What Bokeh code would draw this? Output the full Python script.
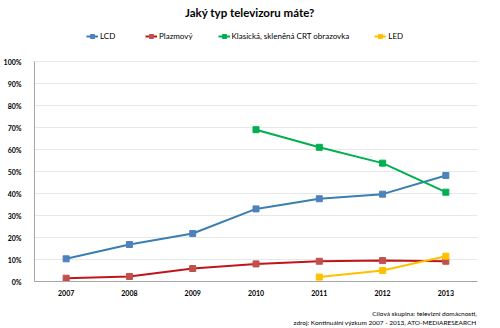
from bokeh.plotting import figure
from bokeh.models import (FactorRange, Range1d, Legend, LegendItem, Label,
                          PrintfTickFormatter, FixedTicker)
from bokeh.layouts import column
from bokeh.embed import file_html
from bokeh.resources import INLINE

years = ["2007", "2008", "2009", "2010", "2011", "2012", "2013"]
lcd = [10.3, 16.8, 21.8, 33.0, 37.6, 39.7, 48.2]
plazma = [1.5, 2.3, 5.9, 8.0, 9.2, 9.5, 9.2]
crt_years = ["2010", "2011", "2012", "2013"]
crt = [69.0, 61.0, 53.8, 40.6]
led_years = ["2011", "2012", "2013"]
led = [2.0, 5.0, 11.5]
y_ticks = [0, 10, 20, 30, 40, 50, 60, 70, 80, 90, 100]

title_text = "Jaký typ televizoru máte?"
note1 = "Cílová skupina: televizní domácnosti,"
note2 = "zdroj: Kontinuální výzkum 2007 - 2013, ATO-MEDIARESEARCH"

FONT = "Lato"


def strip(height):
    s = figure(width=500, height=height, x_range=Range1d(0, 500),
               y_range=Range1d(0, height), output_backend="svg",
               toolbar_location=None, title=None, x_axis_type=None,
               y_axis_type=None, min_border_left=0, min_border_right=0,
               min_border_top=0, min_border_bottom=0)
    s.grid.visible = False
    s.outline_line_color = None
    s.background_fill_color = "white"
    s.border_fill_color = "white"
    return s


# header strip with the title
h = strip(20)
h.add_layout(Label(x=243, y=8, text=title_text, text_font=FONT,
                   text_font_style="bold", text_font_size="11.5px",
                   text_align="center", text_baseline="middle", text_color="#000000"))

# main chart: frame spans 29..477 x 20..281 (room above 100% holds the legend)
p = figure(width=500, height=280, x_range=FactorRange(*years, range_padding=0),
           y_range=Range1d(0, 261 / 2.2), output_backend="svg",
           toolbar_location=None, title=None,
           min_border_left=29, min_border_right=23, min_border_top=0,
           min_border_bottom=19)
p.outline_line_color = None
p.background_fill_color = "white"
p.border_fill_color = "white"

# grid
p.xgrid.grid_line_color = None
p.ygrid.grid_line_color = "#d0d0d0"
p.ygrid.grid_line_dash = "1 1"
p.ygrid.ticker = FixedTicker(ticks=y_ticks)

# axes
p.yaxis.ticker = FixedTicker(ticks=y_ticks)
p.yaxis.formatter = PrintfTickFormatter(format="%d%%")
p.yaxis.bounds = (0, 100)
for ax in (p.xaxis[0], p.yaxis[0]):
    ax.axis_line_color = "#a6a6a6"
    ax.major_tick_line_color = None
    ax.minor_tick_line_color = None
    ax.major_label_text_font = FONT
    ax.major_label_text_font_style = "bold"
    ax.major_label_text_font_size = "7px"
    ax.major_label_text_color = "#000000"
p.yaxis.major_label_standoff = 7
p.xaxis.major_label_standoff = 2

series = [
    ("LCD", years, lcd, "#3a7fb0", "#4f81bd"),
    ("Plazmový", years, plazma, "#c0161b", "#c0504d"),
    ("Klasická, skleněná CRT obrazovka", crt_years, crt, "#00b050", "#00b050"),
    ("LED", led_years, led, "#ffc000", "#ffc000"),
]
items = []
for name, xs, ys, lc, mc in series:
    r1 = p.line(xs, ys, line_color=lc, line_width=2)
    r2 = p.scatter(xs, ys, marker="square", size=6, fill_color=mc, line_color=mc)
    items.append(LegendItem(label=name, renderers=[r1, r2]))

legend = Legend(items=items, orientation="horizontal", location=(52, 240),
                glyph_width=12, glyph_height=10, label_height=10,
                label_standoff=2, spacing=25, padding=0, margin=0,
                border_line_color=None, background_fill_alpha=0,
                label_text_font=FONT, label_text_font_size="8px",
                label_text_color="#000000")
p.add_layout(legend, "center")

# footer strip with the source note
f = strip(28)
f.add_layout(Label(x=499, y=15, text=note1, text_font=FONT, text_font_size="6.5px",
                   text_align="right", text_baseline="middle", text_color="#000000"))
f.add_layout(Label(x=499, y=6, text=note2, text_font=FONT, text_font_size="6.5px",
                   text_align="right", text_baseline="middle", text_color="#000000"))

layout = column(h, p, f, spacing=0)
open("out.html", "w").write(file_html(layout, INLINE))
